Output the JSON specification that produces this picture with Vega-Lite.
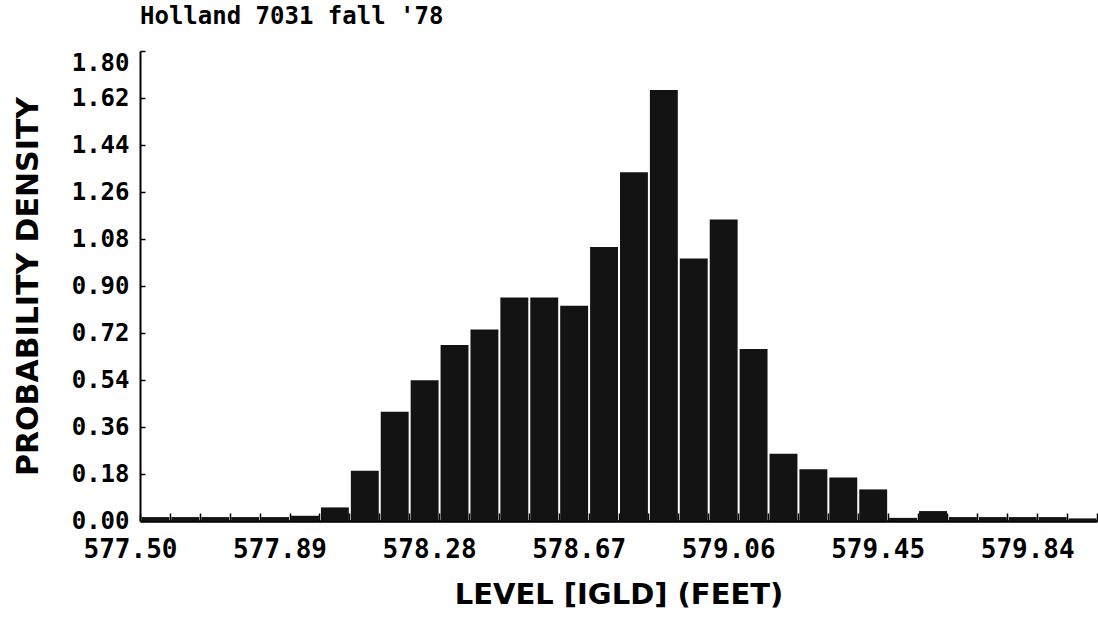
{
  "$schema": "https://vega.github.io/schema/vega-lite/v6.json",
  "width": 957,
  "height": 470,
  "padding": {"left": 13, "top": 5, "right": 0, "bottom": 0},
  "background": "white",
  "title": {
    "text": "Holland 7031 fall '78",
    "anchor": "start",
    "frame": "group",
    "font": "DejaVu Sans Mono",
    "fontWeight": "bold",
    "fontSize": 24,
    "color": "black",
    "offset": 21
  },
  "data": {
    "values": [
      {"x0": 577.500, "x1": 577.578, "density": 0.015},
      {"x0": 577.578, "x1": 577.656, "density": 0.015},
      {"x0": 577.656, "x1": 577.734, "density": 0.015},
      {"x0": 577.734, "x1": 577.812, "density": 0.015},
      {"x0": 577.812, "x1": 577.890, "density": 0.015},
      {"x0": 577.890, "x1": 577.968, "density": 0.02},
      {"x0": 577.968, "x1": 578.046, "density": 0.052},
      {"x0": 578.046, "x1": 578.124, "density": 0.192},
      {"x0": 578.124, "x1": 578.202, "density": 0.418},
      {"x0": 578.202, "x1": 578.280, "density": 0.539},
      {"x0": 578.280, "x1": 578.358, "density": 0.674},
      {"x0": 578.358, "x1": 578.436, "density": 0.733},
      {"x0": 578.436, "x1": 578.514, "density": 0.856},
      {"x0": 578.514, "x1": 578.592, "density": 0.856},
      {"x0": 578.592, "x1": 578.670, "density": 0.824},
      {"x0": 578.670, "x1": 578.748, "density": 1.049},
      {"x0": 578.748, "x1": 578.826, "density": 1.336},
      {"x0": 578.826, "x1": 578.904, "density": 1.651},
      {"x0": 578.904, "x1": 578.982, "density": 1.005},
      {"x0": 578.982, "x1": 579.060, "density": 1.155},
      {"x0": 579.060, "x1": 579.138, "density": 0.659},
      {"x0": 579.138, "x1": 579.216, "density": 0.258},
      {"x0": 579.216, "x1": 579.294, "density": 0.198},
      {"x0": 579.294, "x1": 579.372, "density": 0.167},
      {"x0": 579.372, "x1": 579.450, "density": 0.121},
      {"x0": 579.450, "x1": 579.528, "density": 0.012},
      {"x0": 579.528, "x1": 579.606, "density": 0.038},
      {"x0": 579.606, "x1": 579.684, "density": 0.015},
      {"x0": 579.684, "x1": 579.762, "density": 0.015},
      {"x0": 579.762, "x1": 579.840, "density": 0.015},
      {"x0": 579.840, "x1": 579.918, "density": 0.015},
      {"x0": 579.918, "x1": 579.996, "density": 0.01}
    ]
  },
  "mark": {"type": "bar", "color": "#131313", "binSpacing": 2},
  "encoding": {
    "x": {
      "field": "x0",
      "type": "quantitative",
      "bin": "binned",
      "scale": {"domain": [577.5, 579.996], "nice": false, "zero": false},
      "axis": {
        "title": "LEVEL [IGLD] (FEET)",
        "titleFont": "DejaVu Sans",
        "titleFontWeight": "bold",
        "titleFontSize": 29,
        "titlePadding": 18,
        "values": [577.5, 577.578, 577.656, 577.734, 577.812, 577.89, 577.968, 578.046, 578.124, 578.202, 578.28, 578.358, 578.436, 578.514, 578.592, 578.67, 578.748, 578.826, 578.904, 578.982, 579.06, 579.138, 579.216, 579.294, 579.372, 579.45, 579.528, 579.606, 579.684, 579.762, 579.84, 579.918, 579.996],
        "labelExpr": "abs((datum.value - 577.5) / 0.39 - round((datum.value - 577.5) / 0.39)) < 0.01 ? format(datum.value, '.2f') : ''",
        "labelFont": "DejaVu Sans Mono",
        "labelFontWeight": "bold",
        "labelFontSize": 26,
        "labelPadding": 23,
        "labelOffset": -10,
        "labelFlush": false,
        "labelOverlap": false,
        "tickSize": -8,
        "tickWidth": 1.5,
        "tickColor": "black",
        "domainColor": "black",
        "domainWidth": 2.5,
        "grid": false,
        "labelColor": "black",
        "titleColor": "black"
      }
    },
    "x2": {"field": "x1"},
    "y": {
      "field": "density",
      "type": "quantitative",
      "scale": {"domain": [0, 1.8], "nice": false},
      "axis": {
        "title": "PROBABILITY DENSITY",
        "titleFont": "DejaVu Sans",
        "titleFontWeight": "bold",
        "titleFontSize": 30,
        "titlePadding": 28,
        "values": [0, 0.18, 0.36, 0.54, 0.72, 0.9, 1.08, 1.26, 1.44, 1.62, 1.8],
        "format": ".2f",
        "labelFont": "DejaVu Sans Mono",
        "labelFontWeight": "bold",
        "labelFontSize": 24,
        "labelPadding": 16,
        "labelFlush": false,
        "labelOverlap": false,
        "labelBaseline": {"condition": {"test": "datum.value > 1.79", "value": "top"}, "value": "middle"},
        "tickSize": -5,
        "tickWidth": 1.5,
        "tickColor": "black",
        "domainColor": "black",
        "domainWidth": 2,
        "grid": false,
        "labelColor": "black",
        "titleColor": "black"
      }
    }
  },
  "config": {"view": {"stroke": null}}
}
